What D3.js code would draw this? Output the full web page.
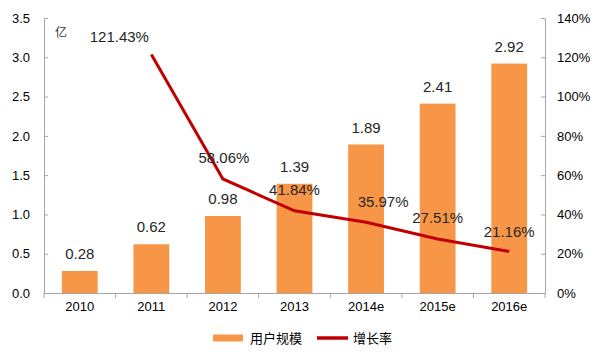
<!DOCTYPE html>
<html><head><meta charset="utf-8">
<script src="https://cdn.jsdelivr.net/npm/d3@7"></script>
<style>body{margin:0;background:#fff}svg{display:block}text{font-family:Arial,"Liberation Sans","Noto Sans CJK SC",sans-serif}</style>
</head><body><svg id="c" width="600" height="360"></svg>
<script>
const categories = ["2010","2011","2012","2013","2014e","2015e","2016e"];
const users = [0.28,0.62,0.98,1.39,1.89,2.41,2.92];
const growth = [null,121.43,58.06,41.84,35.97,27.51,21.16];
const leftTicks = [0,0.5,1.0,1.5,2.0,2.5,3.0,3.5];
const rightTicks = [0,20,40,60,80,100,120,140];
// label offsets for growth labels (dx, dy)
const gOff = [null,[-32,-12],[1,-16],[0,-16],[17,-15],[0,-16],[0,-14]];

const svg = d3.select("#c");
const L=44,R=545,T=18,B=293;
const x = d3.scaleBand().domain(categories).range([L,R]).paddingInner(0.5).paddingOuter(0.25);
const xb = d3.scaleBand().domain(categories).range([L,R]);
const yL = d3.scaleLinear().domain([0,3.5]).range([B,T]);
const yR = d3.scaleLinear().domain([0,140]).range([B,T]);
const axCol="#a6a6a6";
const lblFont = "Lato, 'Open Sans', sans-serif";
const lblCol = "#262626";

// bars
svg.selectAll("rect.bar").data(users).join("rect")
 .attr("x",(d,i)=>x(categories[i])).attr("width",x.bandwidth())
 .attr("y",d=>yL(d)).attr("height",d=>B-yL(d)).attr("fill","#F79646");

// axes
const ga = svg.append("g").attr("transform",`translate(${L},0)`)
 .call(d3.axisLeft(yL).tickValues(leftTicks).tickFormat(d3.format(".1f")).tickSizeInner(-4).tickSizeOuter(0).tickPadding(14));
const gr = svg.append("g").attr("transform",`translate(${R},0)`)
 .call(d3.axisRight(yR).tickValues(rightTicks).tickFormat(d=>d+"%").tickSizeInner(-4).tickSizeOuter(0).tickPadding(12));
const gx = svg.append("g").attr("transform",`translate(0,${B})`)
 .call(d3.axisBottom(xb).tickSize(0).tickPadding(9));
svg.selectAll("line.xt").data(d3.range(categories.length+1)).join("line")
 .attr("x1",i=>L+i*xb.step()).attr("x2",i=>L+i*xb.step()).attr("y1",B).attr("y2",B+5).attr("stroke",axCol);
[ga,gr,gx].forEach(g=>{g.selectAll("path,line").attr("stroke",axCol);g.selectAll("text").attr("font-size",13).attr("fill","#000");});

// unit
svg.append("text").attr("x",55).attr("y",37).attr("font-size",12).attr("fill","#333").text("亿");

// bar labels
svg.selectAll("text.bl").data(users).join("text")
 .attr("x",(d,i)=>x(categories[i])+x.bandwidth()/2).attr("y",d=>yL(d)-12)
 .attr("text-anchor","middle").attr("font-size",15).attr("font-family",lblFont).attr("fill",lblCol).text(d=>d.toFixed(2));

// line
const pts = growth.map((g,i)=>g==null?null:[xb(categories[i])+xb.bandwidth()/2,yR(g)]).filter(p=>p);
svg.append("path").attr("d",d3.line()(pts)).attr("fill","none").attr("stroke","#C00000").attr("stroke-width",3);

// growth labels
growth.forEach((g,i)=>{ if(g==null) return;
 svg.append("text").attr("x",xb(categories[i])+xb.bandwidth()/2+gOff[i][0]).attr("y",yR(g)+gOff[i][1])
  .attr("text-anchor","middle").attr("font-size",15).attr("font-family",lblFont).attr("fill",lblCol).text(g.toFixed(2)+"%");
});

// legend
const lg = svg.append("g");
lg.append("line").attr("x1",213).attr("x2",243).attr("y1",338).attr("y2",338).attr("stroke","#F79646").attr("stroke-width",7);
lg.append("text").attr("x",250).attr("y",343).attr("font-size",13).attr("fill","#000").text("用户规模");
lg.append("line").attr("x1",317).attr("x2",348).attr("y1",338).attr("y2",338).attr("stroke","#C00000").attr("stroke-width",3.5);
lg.append("text").attr("x",353).attr("y",343).attr("font-size",13).attr("fill","#000").text("增长率");
</script></body></html>
